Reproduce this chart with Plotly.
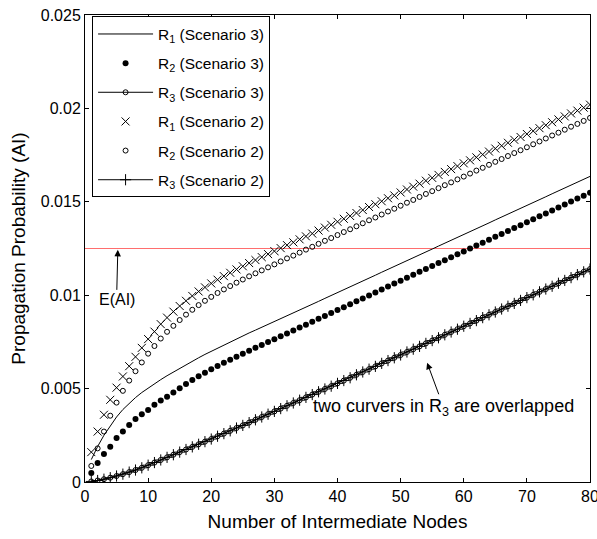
import plotly.graph_objects as go

# ---------------- data ----------------
nodes = list(range(1, 81))

r1_s3 = [0.00120,0.00190,0.00250,0.00302,0.00348,0.00388,0.00422,0.00452,0.00479,0.00503,
         0.00526,0.00548,0.00569,0.00589,0.00609,0.00628,0.00647,0.00665,0.00683,0.00700,
         0.00717,0.00734,0.00750,0.00766,0.00782,0.00798,0.00813,0.00828,0.00843,0.00858,
         0.00874,0.00889,0.00905,0.00920,0.00936,0.00951,0.00967,0.00983,0.00998,0.01014,
         0.01029,0.01045,0.01060,0.01076,0.01092,0.01107,0.01123,0.01138,0.01154,0.01169,
         0.01185,0.01201,0.01216,0.01232,0.01247,0.01263,0.01278,0.01294,0.01309,0.01325,
         0.01341,0.01356,0.01372,0.01387,0.01403,0.01418,0.01434,0.01450,0.01465,0.01481,
         0.01496,0.01512,0.01527,0.01543,0.01559,0.01574,0.01590,0.01605,0.01621,0.01636]

r2_s3 = [0.00048,0.00102,0.00150,0.00189,0.00235,0.00270,0.00305,0.00337,0.00363,0.00386,
         0.00413,0.00436,0.00457,0.00479,0.00502,0.00525,0.00546,0.00566,0.00585,0.00603,
         0.00621,0.00638,0.00655,0.00671,0.00687,0.00703,0.00719,0.00734,0.00749,0.00764,
         0.00780,0.00795,0.00811,0.00827,0.00842,0.00858,0.00874,0.00889,0.00905,0.00921,
         0.00936,0.00952,0.00968,0.00983,0.00999,0.01015,0.01031,0.01046,0.01062,0.01078,
         0.01093,0.01109,0.01125,0.01140,0.01156,0.01172,0.01187,0.01203,0.01219,0.01234,
         0.01250,0.01266,0.01281,0.01297,0.01313,0.01328,0.01344,0.01360,0.01375,0.01391,
         0.01407,0.01422,0.01438,0.01454,0.01469,0.01485,0.01501,0.01517,0.01532,0.01548]

r3_s3 = [0.00003,0.00008,0.00015,0.00023,0.00032,0.00042,0.00053,0.00064,0.00076,0.00090,
         0.00104,0.00118,0.00132,0.00146,0.00160,0.00174,0.00188,0.00202,0.00216,0.00230,
         0.00245,0.00259,0.00274,0.00289,0.00303,0.00318,0.00333,0.00348,0.00363,0.00378,
         0.00393,0.00408,0.00423,0.00438,0.00453,0.00468,0.00483,0.00498,0.00513,0.00528,
         0.00543,0.00558,0.00574,0.00589,0.00604,0.00619,0.00635,0.00650,0.00665,0.00680,
         0.00696,0.00711,0.00726,0.00742,0.00757,0.00772,0.00788,0.00803,0.00818,0.00834,
         0.00849,0.00864,0.00880,0.00895,0.00910,0.00926,0.00941,0.00956,0.00972,0.00987,
         0.01002,0.01018,0.01033,0.01048,0.01064,0.01079,0.01094,0.01110,0.01125,0.01140]

r1_s2 = [0.00160,0.00270,0.00360,0.00440,0.00505,0.00565,0.00620,0.00670,0.00718,0.00765,
         0.00805,0.00845,0.00880,0.00912,0.00942,0.00970,0.00996,0.01020,0.01042,0.01063,
         0.01083,0.01102,0.01120,0.01138,0.01155,0.01172,0.01188,0.01204,0.01220,0.01236,
         0.01252,0.01268,0.01283,0.01299,0.01315,0.01330,0.01346,0.01362,0.01377,0.01393,
         0.01409,0.01424,0.01440,0.01456,0.01472,0.01487,0.01503,0.01519,0.01534,0.01550,
         0.01566,0.01581,0.01597,0.01613,0.01628,0.01644,0.01660,0.01675,0.01691,0.01706,
         0.01722,0.01738,0.01753,0.01769,0.01785,0.01800,0.01816,0.01832,0.01847,0.01863,
         0.01879,0.01894,0.01910,0.01926,0.01941,0.01957,0.01973,0.01988,0.02004,0.02020]

r2_s2 = [0.00086,0.00180,0.00270,0.00355,0.00425,0.00488,0.00543,0.00593,0.00640,0.00687,
         0.00728,0.00768,0.00804,0.00836,0.00867,0.00896,0.00922,0.00947,0.00970,0.00991,
         0.01012,0.01031,0.01049,0.01067,0.01084,0.01101,0.01117,0.01133,0.01149,0.01165,
         0.01181,0.01197,0.01212,0.01228,0.01244,0.01259,0.01275,0.01291,0.01306,0.01322,
         0.01338,0.01353,0.01369,0.01385,0.01401,0.01416,0.01432,0.01448,0.01463,0.01479,
         0.01495,0.01510,0.01526,0.01542,0.01557,0.01573,0.01589,0.01604,0.01620,0.01635,
         0.01651,0.01667,0.01682,0.01698,0.01714,0.01729,0.01745,0.01761,0.01776,0.01792,
         0.01808,0.01823,0.01839,0.01855,0.01870,0.01886,0.01902,0.01917,0.01933,0.01949]

r3_s2 = [0.00003,0.00008,0.00015,0.00023,0.00032,0.00042,0.00053,0.00064,0.00076,0.00090,
         0.00104,0.00118,0.00132,0.00146,0.00160,0.00174,0.00188,0.00202,0.00216,0.00230,
         0.00245,0.00259,0.00274,0.00289,0.00303,0.00318,0.00333,0.00348,0.00363,0.00378,
         0.00393,0.00408,0.00423,0.00438,0.00453,0.00468,0.00483,0.00498,0.00513,0.00528,
         0.00543,0.00558,0.00574,0.00589,0.00604,0.00619,0.00635,0.00650,0.00665,0.00680,
         0.00696,0.00711,0.00726,0.00742,0.00757,0.00772,0.00788,0.00803,0.00818,0.00834,
         0.00849,0.00864,0.00880,0.00895,0.00910,0.00926,0.00941,0.00956,0.00972,0.00987,
         0.01002,0.01018,0.01033,0.01048,0.01064,0.01079,0.01094,0.01110,0.01125,0.01140]

e_ai = 0.0125
e_ai_x = [0, 80]

x_ticks = [0, 10, 20, 30, 40, 50, 60, 70, 80]
y_ticks = [0, 0.005, 0.01, 0.015, 0.02, 0.025]
y_tick_text = ["0", "0.005", "0.01", "0.015", "0.02", "0.025"]

names = ["R<sub>1</sub> (Scenario 3)", "R<sub>2</sub> (Scenario 3)", "R<sub>3</sub> (Scenario 3)",
         "R<sub>1</sub> (Scenario 2)", "R<sub>2</sub> (Scenario 2)", "R<sub>3</sub> (Scenario 2)"]

# ---------------- figure ----------------
FONT = "Liberation Sans, Arial, sans-serif"
K = "black"
fig = go.Figure()

fig.add_trace(go.Scatter(x=e_ai_x, y=[e_ai, e_ai], mode="lines",
                         line=dict(color="rgb(255,110,110)", width=1),
                         showlegend=False, hoverinfo="skip"))

fig.add_trace(go.Scatter(x=nodes, y=r1_s3, mode="lines", name=names[0],
                         line=dict(color=K, width=1), legendgroup="a"))
fig.add_trace(go.Scatter(x=nodes, y=r2_s3, mode="markers", name=names[1],
                         marker=dict(symbol="circle", size=6, color=K), legendgroup="b"))
fig.add_trace(go.Scatter(x=nodes, y=r3_s3, mode="lines+markers", name=names[2],
                         line=dict(color=K, width=1),
                         marker=dict(symbol="circle-open", size=5, color=K, line=dict(width=1)),
                         legendgroup="c"))
fig.add_trace(go.Scatter(x=nodes, y=r1_s2, mode="markers", name=names[3],
                         marker=dict(symbol="x-thin-open", size=8, color=K, line=dict(width=1, color=K)),
                         legendgroup="d"))
fig.add_trace(go.Scatter(x=nodes, y=r2_s2, mode="markers", name=names[4],
                         marker=dict(symbol="circle-open", size=5, color=K, line=dict(width=1)),
                         legendgroup="e"))
fig.add_trace(go.Scatter(x=nodes, y=r3_s2, mode="lines+markers", name=names[5],
                         line=dict(color=K, width=1),
                         marker=dict(symbol="cross-thin-open", size=8, color=K, line=dict(width=1, color=K)),
                         legendgroup="f"))

axis_common = dict(showline=True, linecolor=K, linewidth=1, mirror="ticks",
                   ticks="inside", ticklen=4, tickcolor=K, tickwidth=1,
                   showgrid=False, zeroline=False, ticklabeloverflow="allow",
                   automargin=False,
                   tickfont=dict(family=FONT, size=16, color=K))

fig.update_xaxes(range=[0, 80], tickvals=x_ticks,
                 title=dict(text="Number of Intermediate Nodes",
                            font=dict(family=FONT, size=19, color=K), standoff=10),
                 **axis_common)
fig.update_yaxes(range=[0, 0.025], tickvals=y_ticks, ticktext=y_tick_text,
                 title=dict(text="Propagation Probability (AI)",
                            font=dict(family=FONT, size=19, color=K), standoff=10),
                 **axis_common)

fig.add_annotation(x=5.2, y=0.01243, ax=5.0, ay=0.00975, axref="x", ayref="y",
                   text="E(AI)", showarrow=True, arrowhead=2, arrowsize=1.3,
                   arrowwidth=1, arrowcolor=K,
                   font=dict(family=FONT, size=16, color=K))
fig.add_annotation(x=54.2, y=0.00638, ax=56.8, ay=0.0040, axref="x", ayref="y",
                   text="two curvers in R<sub>3</sub> are overlapped", showarrow=True,
                   arrowhead=2, arrowsize=1.3, arrowwidth=1, arrowcolor=K,
                   font=dict(family=FONT, size=18, color=K))

fig.update_layout(
    width=597, height=539,
    margin=dict(l=85, r=7, t=15, b=57),
    paper_bgcolor="white", plot_bgcolor="white",
    legend=dict(x=0.014, y=0.997, xanchor="left", yanchor="top",
                bgcolor="white", bordercolor=K, borderwidth=1,
                font=dict(family=FONT, size=15.5, color=K),
                itemwidth=55,
                traceorder="grouped", tracegroupgap=6),
    showlegend=True,
)

fig.write_html("out.html")
